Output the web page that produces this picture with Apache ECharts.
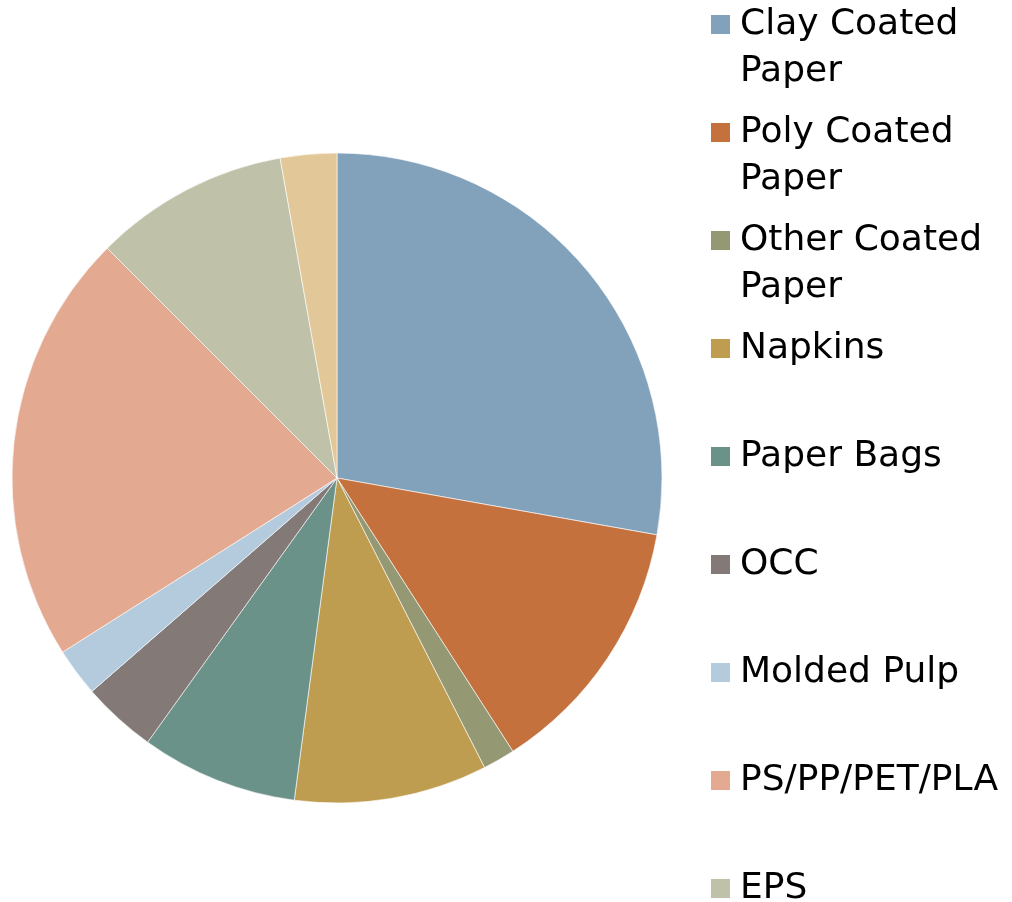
<!DOCTYPE html>
<html>
<head>
<meta charset="utf-8">
<title>Pie</title>
<script src="https://cdn.jsdelivr.net/npm/echarts@6/dist/echarts.min.js"></script>
<style>
  html, body { margin: 0; padding: 0; background: #fff; }
  #PieChart { width: 1012px; height: 902px; }
</style>
</head>
<body>
<div id="PieChart"></div>
<script>
// data (share of the whole, %)
var categories = ['Clay Coated Paper', 'Poly Coated Paper', 'Other Coated Paper', 'Napkins',
  'Paper Bags', 'OCC', 'Molded Pulp', 'PS/PP/PET/PLA', 'EPS', 'Other'];
var values = [27.8, 13.1, 1.6, 9.6, 7.8, 3.7, 2.4, 21.5, 9.7, 2.8];
var legendLabels = ['Clay Coated\nPaper', 'Poly Coated\nPaper', 'Other Coated\nPaper', 'Napkins',
  'Paper Bags', 'OCC', 'Molded Pulp', 'PS/PP/PET/PLA', 'EPS'];
var colors = ['#82a2bc', '#c4713d', '#949873', '#bf9d50', '#6a9289',
  '#837977', '#b4cadd', '#e4a991', '#bfc2a9', '#e2c798'];

var myChart = echarts.init(document.getElementById('PieChart'));

var option = {
  animation: false,
  color: colors,
  legend: {
    orient: 'vertical',
    left: 709,
    top: -46,
    height: 1400,
    padding: 0,
    itemGap: -33,
    itemWidth: 21,
    itemHeight: 21,
    icon: 'rect',
    selectedMode: false,
    // every row is three lines high, first text line sits in the middle next to the square
    formatter: function (name) {
      var label = legendLabels[categories.indexOf(name)];
      return label.indexOf('\n') >= 0 ? ' \n' + label : ' \n' + label + '\n ';
    },
    textStyle: {
      fontFamily: 'DejaVu Sans',
      fontSize: 36,
      lineHeight: 47,
      color: '#000',
      padding: [0, 0, 0, 4]
    },
    data: categories.slice(0, legendLabels.length)
  },
  series: [{
    type: 'pie',
    center: [337, 478],
    radius: 325,
    startAngle: 90,
    clockwise: true,
    label: { show: false },
    labelLine: { show: false },
    emphasis: { disabled: true },
    itemStyle: {
      borderColor: '#ffffff',
      borderWidth: 0.6
    },
    data: categories.map(function (name, i) {
      return { name: name, value: values[i] };
    })
  }]
};
myChart.setOption(option);
</script>
</body>
</html>
